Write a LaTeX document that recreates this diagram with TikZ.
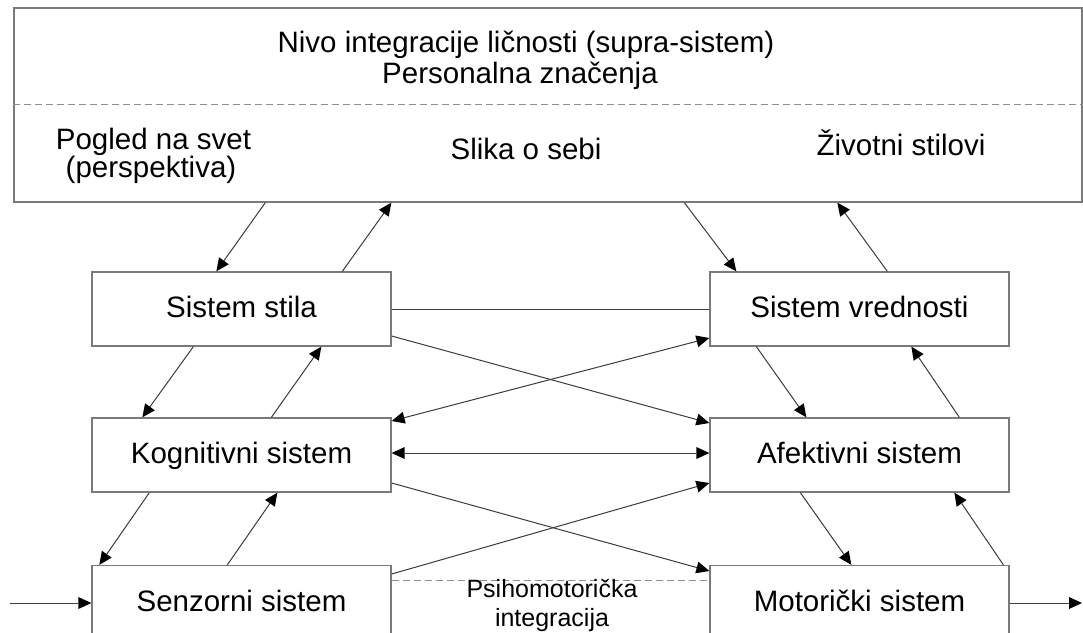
\documentclass[tikz,border=0pt]{standalone}
\usepackage{fontspec}
\setmainfont{Liberation Sans}
\usetikzlibrary{arrows.meta}

\definecolor{boxgray}{HTML}{7A7A7A}
\definecolor{linegray}{HTML}{3C3C3C}
\definecolor{dashgray}{HTML}{8E8E8E}

\begin{document}
\begin{tikzpicture}[x=1pt,y=-1pt,
  tip/.tip={Triangle[length=13pt,width=12pt,fill=black,line width=0pt]},
  box/.style={draw=boxgray,line width=1.3pt,minimum width=299pt,minimum height=74pt,
    inner sep=0pt,text height=19pt,text depth=2pt,font=\fontsize{29.5}{32}\selectfont},
  lbl/.style={inner sep=0pt,anchor=base,font=\fontsize{29.5}{32}\selectfont},
  small/.style={inner sep=0pt,anchor=base,font=\fontsize{25}{28}\selectfont},
  arr/.style={draw=linegray,line width=1pt,-tip},
  biarr/.style={draw=linegray,line width=1pt,tip-tip},
  link/.style={draw=linegray,line width=1pt},
  sep/.style={draw=dashgray,line width=1pt,dash pattern=on 7pt off 4pt}
]
\useasboundingbox (0,0) rectangle (1083,632);
\fill[white] (0,0) rectangle (1083,632);
\clip (0,0) rectangle (1083,632);

% supra-system
\node[draw=boxgray,line width=1.3pt,minimum width=1068pt,minimum height=194pt,inner sep=0pt] (top) at (548,105) {};
\draw[sep] (top.west |- 0,104) coordinate (sepl) -- (top.east |- 0,104) coordinate (sepr);
\node[lbl] (nivo) at (526,52) {Nivo integracije ličnosti (supra-sistem)};
\node[lbl] (pers) at (520,83) {Personalna značenja};
\node[lbl] (pogled) at (153.5,149) {Pogled na svet};
\node[lbl] (persp) at (151,177) {(perspektiva)};
\node[lbl] (slika) at (526,159) {Slika o sebi};
\node[lbl] (zivot) at (901,155) {Životni stilovi};

% subsystems
\node[box] (stil) at (241.5,309) {Sistem stila};
\node[box] (vred) at (859.5,309) {Sistem vrednosti};
\node[box] (kog)  at (241.5,455) {Kognitivni sistem};
\node[box] (af)   at (859.5,455) {Afektivni sistem};
\node[box] (sen)  at (241.5,602.5) {Senzorni sistem};
\node[box] (mot)  at (859.5,602.5) {Motorički sistem};

% psychomotor integration
\draw[sep] ([yshift=22.5pt]sen.east) -- ([yshift=22.5pt]mot.west);
\node[small] (psih) at (552,597) {Psihomotorička};
\node[small] (integ) at (552,626) {integracija};

% vertical links, left column
\draw[arr] ([xshift=252pt]top.south west) -- ([xshift=125pt]stil.north west);
\draw[arr] ([xshift=251pt]stil.north west) -- ([xshift=378pt]top.south west);
\draw[arr] ([xshift=102pt]stil.south west) -- ([xshift=51pt]kog.north west);
\draw[arr] ([xshift=180pt]kog.north west) -- ([xshift=230pt]stil.south west);
\draw[arr] ([xshift=58pt]kog.south west) -- ([xshift=8pt]sen.north west);
\draw[arr] ([xshift=136pt]sen.north west) -- ([xshift=186pt]kog.south west);

% vertical links, right column
\draw[arr] ([xshift=671pt]top.south west) -- ([xshift=27pt]vred.north west);
\draw[arr] ([xshift=178pt]vred.north west) -- ([xshift=824pt]top.south west);
\draw[arr] ([xshift=47pt]vred.south west) -- ([xshift=97pt]af.north west);
\draw[arr] ([xshift=250pt]af.north west) -- ([xshift=202pt]vred.south west);
\draw[arr] ([xshift=91pt]af.south west) -- ([xshift=142pt]mot.north west);
\draw[arr] ([xshift=294pt]mot.north west) -- ([xshift=245pt]af.south west);

% cross links
\draw[link] (stil.east) -- (vred.west);
\draw[arr] ([yshift=-27pt]stil.east) -- ([yshift=32pt]af.west);
\draw[biarr] ([yshift=2pt]kog.east) -- ([yshift=2pt]af.west);
\draw[biarr] ([yshift=34pt]kog.east) -- ([yshift=-29pt]vred.west);
\draw[arr] ([yshift=-28pt]kog.east) -- ([yshift=31.5pt]mot.west);
\draw[arr] ([yshift=28.5pt]sen.east) -- ([yshift=-28pt]af.west);

% input and output
\coordinate (inp) at (10,603);
\coordinate (outp) at (1082,603);
\draw[arr] (inp) -- (sen.west |- inp);
\draw[arr] (mot.east |- outp) -- (outp);
\end{tikzpicture}
\end{document}
